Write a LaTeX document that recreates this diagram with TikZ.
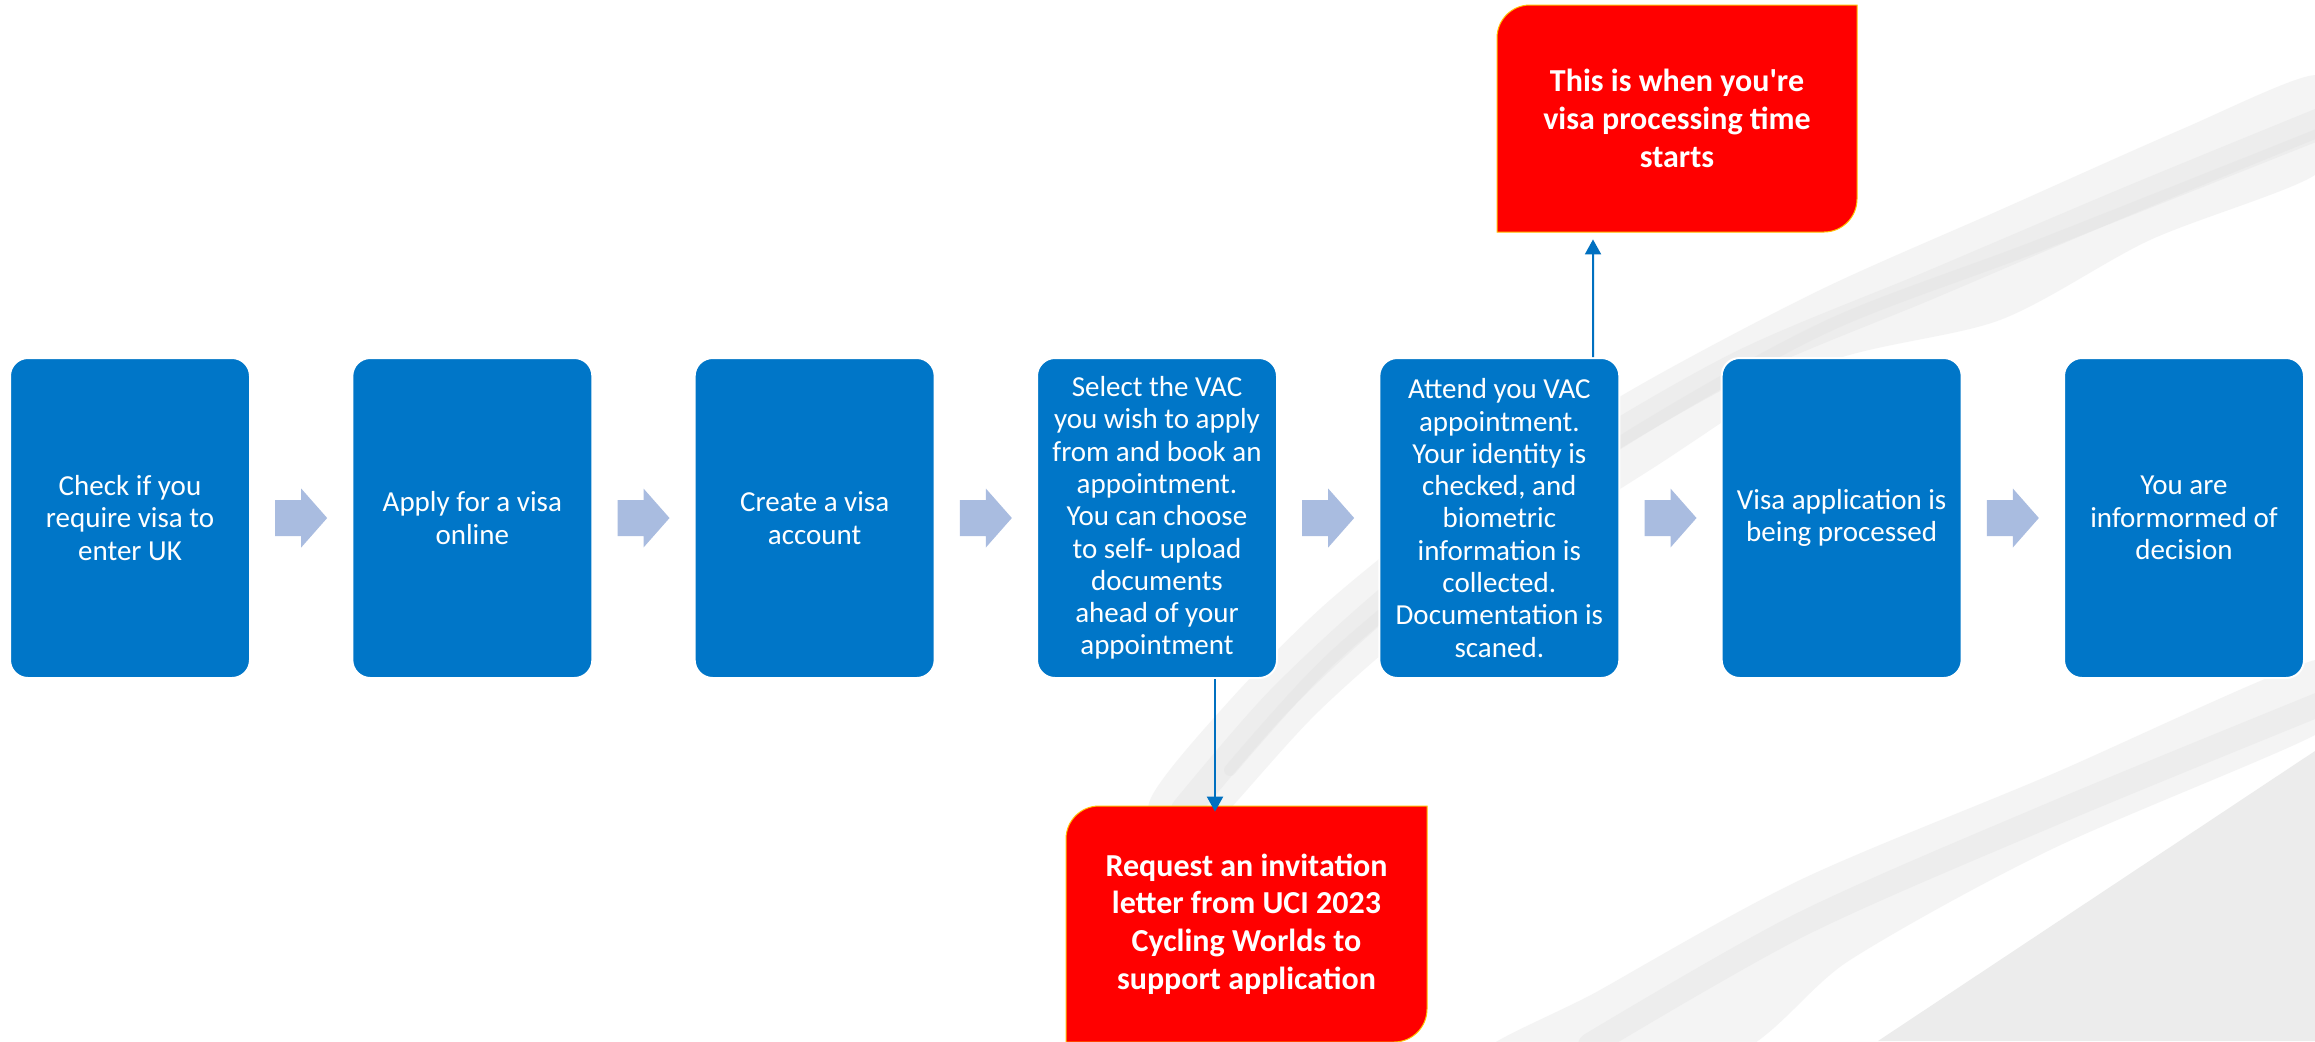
\documentclass[tikz,border=0pt]{standalone}
\usepackage{fontspec}
\setmainfont{Carlito}
\usetikzlibrary{calc,arrows.meta}
\definecolor{boxblue}{RGB}{0,118,200}
\definecolor{chevblue}{RGB}{169,188,224}
\definecolor{linkblue}{RGB}{0,112,192}
\definecolor{alertred}{RGB}{255,0,0}
\definecolor{alertrim}{RGB}{255,192,0}
\definecolor{brushgray}{RGB}{225,225,225}
\definecolor{flatgray}{RGB}{236,236,236}
\begin{document}
\begin{tikzpicture}[x=0.5pt,y=-0.5pt,
  stepbox/.style={fill=boxblue, draw=white, line width=1pt, rounded corners=9pt,
    minimum width=120pt, minimum height=160pt, inner sep=0pt, align=center,
    text=white, font=\fontsize{14.5}{16.15}\selectfont},
  alertbox/.style={inner sep=0pt, align=center, text=white,
    font=\bfseries\fontsize{16}{18.9}\selectfont},
  chev/.style={fill=chevblue},
  link/.style={draw=linkblue, line width=1pt, -{Triangle[width=8pt,length=7.5pt]}},
  alertshape/.style={fill=alertred, draw=alertrim, line width=0.5pt},
  brush/.style={fill=brushgray, opacity=0.35},
  brushcore/.style={draw=brushgray, opacity=0.35, line cap=round}
]
\useasboundingbox (0,0) rectangle (2315,1041);
\clip (0,0) rectangle (2315,1041);
\fill[white] (0,0) rectangle (2315,1041);

% background brush strokes
\fill[brush] plot[smooth cycle] coordinates {(1150,800) (1230,700) (1330,600) (1470,490) (1640,385) (1820,290) (2000,210) (2180,130) (2315,75) (2335,120) (2315,175) (2150,240) (2000,320) (1820,365) (1650,470) (1450,600) (1320,710) (1210,830) (1170,850)};
\draw[brushcore, line width=14pt] plot[smooth] coordinates {(1185,810) (1280,700) (1400,590) (1560,470) (1740,365) (1930,285) (2130,200) (2330,118)};
\draw[brushcore, line width=6pt] plot[smooth] coordinates {(1230,770) (1330,660) (1470,545) (1640,430) (1830,325) (2040,245) (2330,130)};
\fill[brush] plot[smooth cycle] coordinates {(1480,1060) (1600,990) (1800,880) (2050,775) (2315,660) (2335,700) (2315,735) (2050,850) (1850,960) (1720,1060)};
\draw[brushcore, line width=12pt] plot[smooth] coordinates {(1590,1045) (1800,925) (2050,815) (2330,700)};
\fill[flatgray] (1878,1041) -- (2315,751) -- (2315,1041) -- cycle;

% red call-out shapes
\path[alertshape] (1497,38) .. controls (1497,19.8) and (1511.8,5) .. (1530,5) -- (1857,5) -- (1857,199) .. controls (1857,217.2) and (1842.2,232) .. (1824,232) -- (1497,232) -- cycle;
\path[alertshape] (1066,839) .. controls (1066,820.8) and (1080.8,806) .. (1099,806) -- (1427,806) -- (1427,1009) .. controls (1427,1027.2) and (1412.2,1042) .. (1394,1042) -- (1066,1042) -- cycle;

\node[alertbox, minimum width=180pt, minimum height=113.5pt] (r1) at (1677,118.5)
  {This is when you\textquotesingle re\\visa processing time\\starts};
\node[alertbox, minimum width=180.5pt, minimum height=118pt] (r2) at (1246.5,924)
  {Request an invitation\\letter from UCI 2023\\Cycling Worlds to\\support application};

% process steps
\node[stepbox] (b1) at (130,518) {Check if you\\require visa to\\enter UK};
\node[stepbox] (b2) at (472.33,518) {Apply for a visa\\online};
\node[stepbox] (b3) at (814.67,518) {Create a visa\\account};
\node[stepbox] (b4) at (1157,518) {Select the VAC\\you wish to apply\\from and book an\\appointment.\\You can choose\\to self- upload\\documents\\ahead of your\\appointment};
\node[stepbox] (b5) at (1499.33,518) {Attend you VAC\\appointment.\\Your identity is\\checked, and\\biometric\\information is\\collected.\\Documentation is\\scaned.};
\node[stepbox] (b6) at (1841.67,518) {Visa application is\\being processed};
\node[stepbox] (b7) at (2184,518) {You are\\informormed of\\decision};

% block arrows between steps
\foreach \a/\b in {b1/b2,b2/b3,b3/b4,b4/b5,b5/b6,b6/b7}{
  \fill[chev] ($(\a.east)!0.5!(\b.west)$) ++(-26,-18) -- ++(26,0) -- ++(0,-11.5)
    -- ++(26,29.5) -- ++(-26,29.5) -- ++(0,-11.5) -- ++(-26,0) -- cycle;
}

% connectors
\draw[link] ($(b4.south)+(58,0)$) -- ($(r2.north)+(-31.5,6)$);
\draw[link] ($(b5.north)+(93.7,0)$) -- ($(r1.south)+(-84,7)$);
\end{tikzpicture}
\end{document}
